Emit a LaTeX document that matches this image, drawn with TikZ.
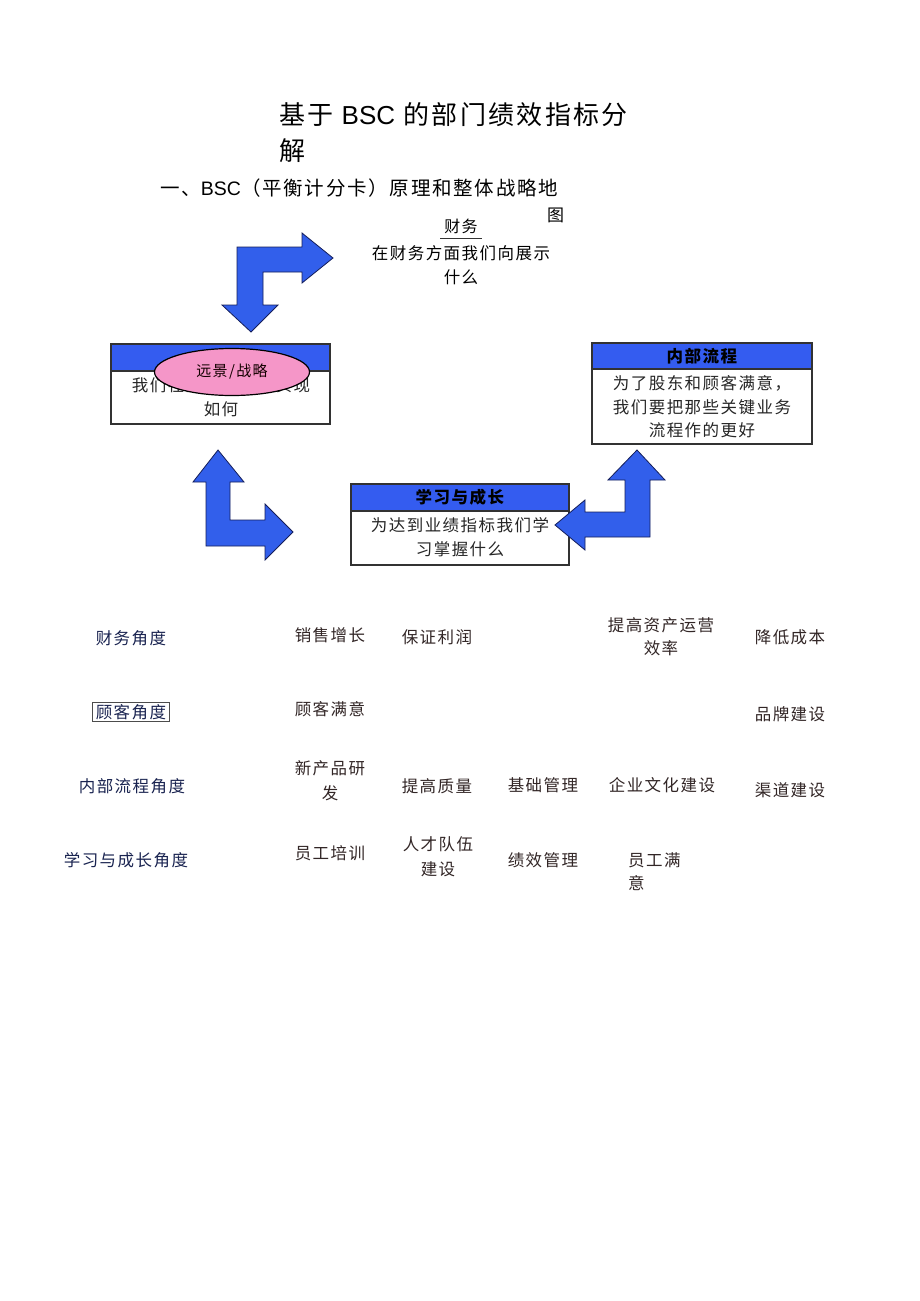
\documentclass[tikz,border=0pt]{standalone}
\usepackage{fontspec}
\setmainfont[LetterSpace=9]{Noto Sans CJK SC}
\newfontfamily\latinsans{Liberation Sans}
\usetikzlibrary{shapes.geometric}
\definecolor{hdrblue}{RGB}{52,92,240}
\definecolor{arrblue}{RGB}{50,95,235}
\definecolor{arrline}{RGB}{20,30,90}
\definecolor{pinkfill}{RGB}{245,150,200}
\definecolor{navytext}{RGB}{25,35,80}
\definecolor{browntext}{RGB}{50,38,38}
\definecolor{frame}{RGB}{50,50,50}
\tikzset{
  txt/.style={inner sep=0pt, align=center, text=black},
  cell/.style={inner sep=0pt, align=center, text=browntext, font=\fontsize{16.5}{24}\selectfont},
  lcell/.style={cell, text=navytext},
  boxframe/.style={draw=frame, line width=1.6pt, fill=white, inner sep=0pt},
  header/.style={draw=frame, line width=1.6pt, fill=hdrblue, inner sep=0pt},
  blockarrow/.style={draw=arrline, line width=0.8pt, fill=arrblue, line join=miter},
  boxtxt/.style={inner sep=0pt, align=center, text=black!85, font=\fontsize{16.5}{23.5}\selectfont},
  hdrtxt/.style={inner sep=0pt, align=center, text=black, font=\fontsize{16.5}{20}\selectfont\bfseries}
}
\begin{document}
\begin{tikzpicture}[x=1pt, y=-1pt]
\useasboundingbox (0,0) rectangle (920,1301);
\fill[white] (0,0) rectangle (920,1301);

% titles
\node[txt, anchor=west, font=\fontsize{26}{30}\selectfont] (title1) at (279,115) {基于 {\latinsans BSC} 的部门绩效指标分};
\node[txt, anchor=west, font=\fontsize{26}{30}\selectfont] (title2) at (279,151) {解};
\node[txt, anchor=west, font=\fontsize{19.5}{24}\selectfont] (sub1) at (160,188) {一、{\latinsans BSC}（平衡计分卡）原理和整体战略地};
\node[txt, anchor=west, font=\fontsize{17}{24}\selectfont] (sub2) at (547,215) {图};

% finance label
\node[txt, font=\fontsize{16}{20}\selectfont] (fin) at (461,226) {财务};
\coordinate (ulA) at (440,238);
\coordinate (ulB) at (482,238);
\draw[line width=0.7pt, black!80] (ulA) -- (ulB);
\node[txt, font=\fontsize{16.5}{24}\selectfont] (findesc) at (461,265) {在财务方面我们向展示\\什么};

% vision box
\node[boxframe, anchor=north west, minimum width=219pt, minimum height=80pt] (vision) at (110,343) {};
\node[header, anchor=north west, minimum width=219pt, minimum height=27pt] (visionhdr) at (vision.north west) {};
\node[boxtxt] (visiontxt) at (221,397) {我们在顾客面前要实现\\如何};
\node[ellipse, draw=black, line width=1.2pt, fill=pinkfill, minimum width=155pt, minimum height=47pt, inner sep=0pt, text=black!80!red!40!black, font=\fontsize{15}{18}\selectfont] (strategy) at (232,372) {远景/战略};

% internal process box
\node[boxframe, anchor=north west, minimum width=220pt, minimum height=101pt] (proc) at (591,342) {};
\node[header, anchor=north west, minimum width=220pt, minimum height=26pt] (prochdr) at (proc.north west) {};
\node[hdrtxt] (prochdrtxt) at (prochdr.center) {内部流程};
\node[boxtxt] (proctxt) at (702,407) {为了股东和顾客满意，\\我们要把那些关键业务\\流程作的更好};

% learning box
\node[boxframe, anchor=north west, minimum width=218pt, minimum height=81pt] (learn) at (350,483) {};
\node[header, anchor=north west, minimum width=218pt, minimum height=27pt] (learnhdr) at (learn.north west) {};
\node[hdrtxt] (learnhdrtxt) at (learnhdr.center) {学习与成长};
\node[boxtxt] (learntxt) at (460,537) {为达到业绩指标我们学\\习掌握什么};

% block arrows
\draw[blockarrow] (237,247) -- (302,247) -- (302,233) -- (333,258) -- (302,283) -- (302,272)
  -- (263,272) -- (263,305) -- (278,305) -- (251,332) -- (222,305) -- (237,305) -- cycle;
\draw[blockarrow] (218,450) -- (244,482) -- (230,482) -- (230,520) -- (265,520) -- (265,504)
  -- (293,532) -- (265,560) -- (265,546) -- (206,546) -- (206,482) -- (193,482) -- cycle;
\draw[blockarrow] (637,450) -- (665,480) -- (650,480) -- (650,537) -- (585,537) -- (585,550)
  -- (555,525) -- (585,500) -- (585,512) -- (625,512) -- (625,480) -- (608,480) -- cycle;

% table
\node[lcell] (rfin) at (131,638) {财务角度};
\node[lcell, draw=black!70, line width=0.8pt, inner xsep=3pt, inner ysep=2pt] (rcus) at (131,712) {顾客角度};
\node[lcell] (rproc) at (132,786) {内部流程角度};
\node[lcell] (rlearn) at (126,860) {学习与成长角度};

\node[cell] (c1) at (330,635) {销售增长};
\node[cell] (c2) at (437,637) {保证利润};
\node[cell] (c3) at (661,625) {提高资产运营};
\node[cell] (c3b) at (661,648) {效率};
\node[cell] (c4) at (790,637) {降低成本};

\node[cell] (d1) at (330,709) {顾客满意};
\node[cell] (d2) at (790,714) {品牌建设};

\node[cell] (e1) at (330,768) {新产品研};
\node[cell] (e1b) at (330,793) {发};
\node[cell] (e2) at (437,786) {提高质量};
\node[cell] (e3) at (543,785) {基础管理};
\node[cell] (e4) at (662,785) {企业文化建设};
\node[cell] (e5) at (790,790) {渠道建设};

\node[cell] (f1) at (330,853) {员工培训};
\node[cell] (f2) at (438,844) {人才队伍};
\node[cell] (f2b) at (438,869) {建设};
\node[cell] (f3) at (543,860) {绩效管理};
\node[cell, anchor=west] (f4) at (628,860) {员工满};
\node[cell, anchor=west] (f4b) at (628,883) {意};
\end{tikzpicture}
\end{document}
